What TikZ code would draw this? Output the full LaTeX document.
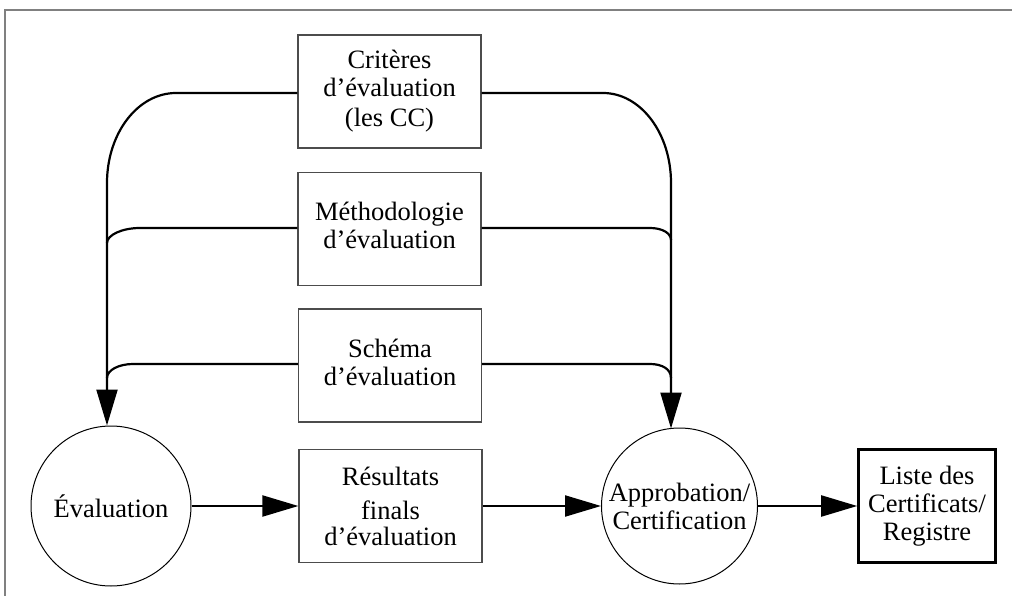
\documentclass[tikz,border=0pt]{standalone}
\usepackage{fontspec}
\setmainfont{Liberation Serif}
\usetikzlibrary{arrows.meta}
\begin{document}
\begin{tikzpicture}[x=1pt,y=-1pt,
  txt/.style={font=\fontsize{26.5}{28}\selectfont, align=center, inner sep=0pt},
  docbox/.style={txt, draw=black!70, line width=1.3pt, minimum width=183pt, minimum height=113pt},
  listbox/.style={txt, draw=black, line width=2.6pt, minimum width=137pt, minimum height=113pt},
  process/.style={txt, circle, draw=black, line width=1pt},
  flow/.style={draw=black, line width=2.2pt},
  bigtip/.style={-{Triangle[length=36pt,width=21pt]}}
]
\useasboundingbox (0,0) rectangle (1012,596);
% partial frame
\draw[black!50, line width=1.5pt] (5,596) -- (5,10) -- (1012,10);

% documents
\node[docbox] (crit) at (389.5,91.5) {Critères\\d’évaluation\\[2pt](les CC)};
\node[docbox] (meth) at (389.5,229) {\raisebox{6pt}{\begin{tabular}{@{}c@{}}Méthodologie\\d’évaluation\end{tabular}}};
\node[docbox] (sche) at (390,365.5) {\raisebox{5pt}{\begin{tabular}{@{}c@{}}Schéma\\d’évaluation\end{tabular}}};
\node[docbox] (res) at (390.5,506) {Résultats\\[6pt]finals\\[-2pt]d’évaluation};
\node[listbox] (liste) at (927,506) {Liste des\\Certificats/\\Registre};

% processes
\node[process, minimum size=160pt] (eval) at (111,506) {Évaluation};
\node[process, minimum size=156pt] (appr) at (679.5,506) {Approbation/\\Certification};

% collector columns
\coordinate (jl) at (107,183);
\coordinate (jr) at (671,183);

% left collector into Évaluation
\path[flow, bigtip] (crit.west |- 0,93) -- (176,93)
  .. controls (138,93) and (107,133) .. (jl) -- (jl |- eval.north);
\path[flow] (meth.west |- 0,228) -- (140,228)
  .. controls (122,228) and (107,235) .. (107,243);
\path[flow] (sche.west |- 0,364) -- (133,364)
  .. controls (119,364) and (107,370) .. (107,378);

% right collector into Approbation
\path[flow, bigtip] (crit.east |- 0,93) -- (603,93)
  .. controls (640.5,93) and (671,133) .. (jr) -- (671,428.5);
\path[flow] (meth.east |- 0,228) -- (650,228)
  .. controls (662,228) and (671,233) .. (671,240);
\path[flow] (sche.east |- 0,364) -- (650,364)
  .. controls (662,364) and (671,369) .. (671,378);

% main chain
\path[flow, bigtip] (eval.east) -- (res.west);
\path[flow, bigtip] (res.east) -- (appr.west);
\path[flow, bigtip] (appr.east) -- (liste.west);
\end{tikzpicture}
\end{document}
